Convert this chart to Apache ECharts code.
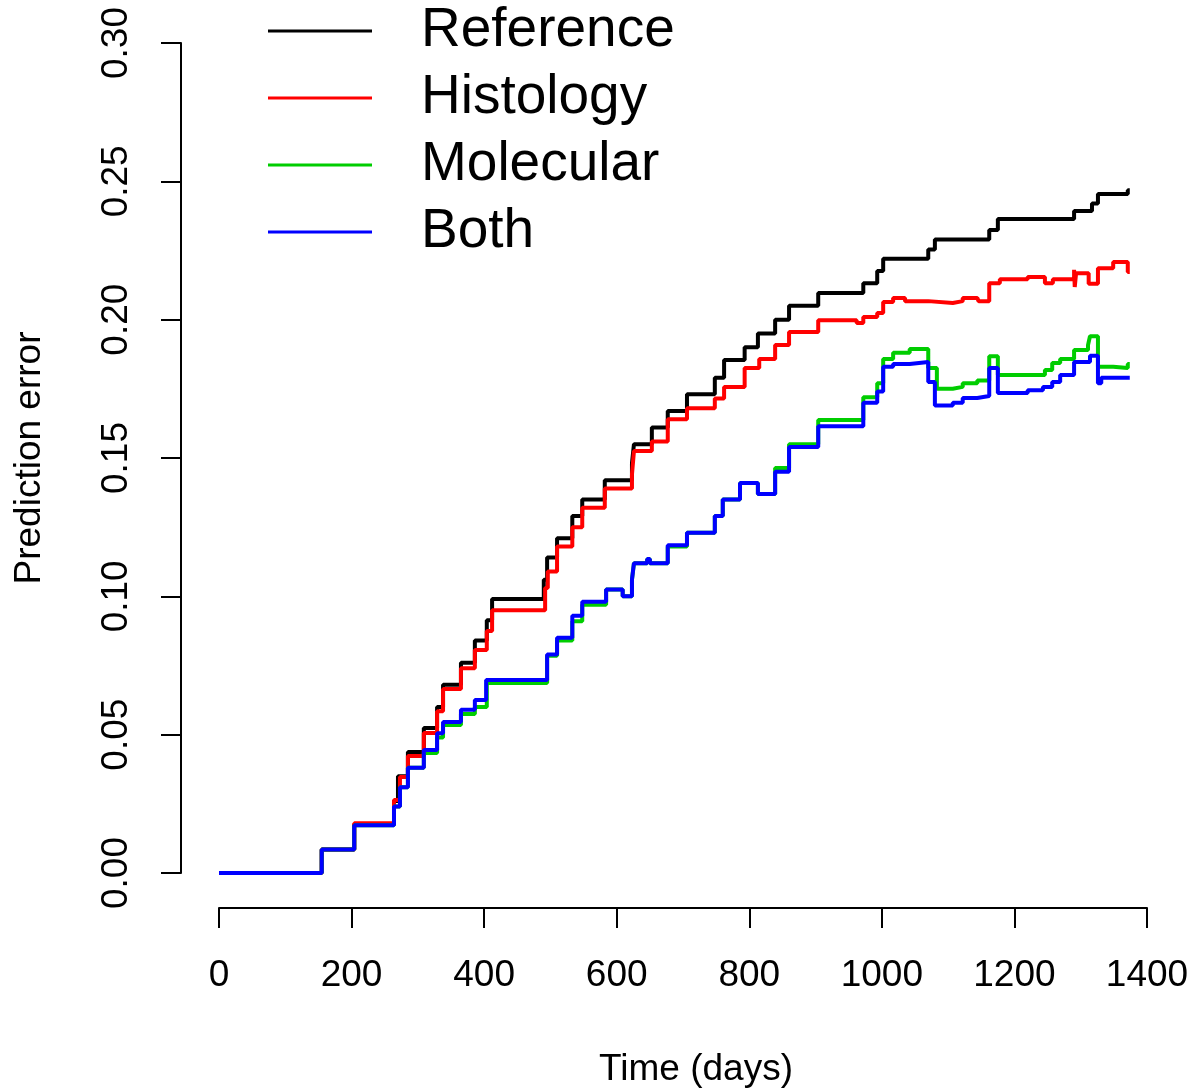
<!DOCTYPE html>
<html>
<head>
<meta charset="utf-8">
<script src="https://cdn.jsdelivr.net/npm/echarts@6/dist/echarts.min.js"></script>
<style>
  html, body { margin: 0; padding: 0; background: #fff; }
  #chart { width: 1193px; height: 1090px; }
</style>
</head>
<body>
<div id="chart"></div>
<script>
// prediction error curves, [time in days, error] - value holds until the next time
const referenceCurve = [
  [0, 0], [155, 0.0085], [204, 0.0175], [264, 0.026], [270, 0.035], [285, 0.0437],
  [309, 0.0524], [329, 0.06], [338, 0.068], [365, 0.076], [386, 0.084], [404, 0.0914],
  [412, 0.099], [490, 0.106], [495, 0.114], [510, 0.121], [533, 0.129], [548, 0.135],
  [582, 0.142], [623, 0.148], [626, 0.155], [653, 0.161], [677, 0.167], [706, 0.173],
  [748, 0.179], [762, 0.1854], [793, 0.190], [813, 0.195], [839, 0.200], [860, 0.205],
  [904, 0.2096], [972, 0.2132], [993, 0.2176], [1002, 0.222], [1070, 0.2254], [1080, 0.229],
  [1162, 0.2324], [1175, 0.2364], [1290, 0.2393], [1317, 0.242], [1326, 0.2454],
  [1371, 0.2468], [1374, 0.2468]
];
const histologyCurve = [
  [0, 0], [155, 0.0085], [204, 0.018], [264, 0.0264], [273, 0.0347], [285, 0.0423],
  [309, 0.0506], [329, 0.0585], [338, 0.0665], [365, 0.074], [386, 0.0806], [404, 0.0875],
  [412, 0.095], [492, 0.103], [496, 0.109], [510, 0.118], [533, 0.125], [548, 0.132],
  [582, 0.139], [623, 0.144], [626, 0.1525], [653, 0.156], [677, 0.164], [706, 0.168],
  [748, 0.1715], [762, 0.1757], [793, 0.1825], [815, 0.1858], [839, 0.1908], [860, 0.1955],
  [904, 0.1998], [962, 0.1988], [972, 0.201], [993, 0.2024], [1002, 0.2064], [1017, 0.2078],
  [1035, 0.2067], [1070, 0.206], [1107, 0.2067], [1122, 0.2078], [1144, 0.2085],
  [1146, 0.2067], [1162, 0.2132], [1178, 0.2146], [1220, 0.2154], [1246, 0.2132],
  [1258, 0.2146], [1290, 0.218], [1291, 0.2118], [1293, 0.2168], [1312, 0.213],
  [1326, 0.2186], [1349, 0.2208], [1371, 0.2172], [1374, 0.2172]
];
const molecularCurve = [
  [0, 0], [155, 0.0085], [204, 0.0173], [264, 0.024], [273, 0.031], [285, 0.038],
  [309, 0.0434], [329, 0.049], [338, 0.0535], [365, 0.0575], [386, 0.060], [404, 0.0687],
  [495, 0.0785], [510, 0.084], [533, 0.091], [548, 0.097], [584, 0.1025], [609, 0.100],
  [623, 0.106], [626, 0.112], [646, 0.1135], [650, 0.112], [677, 0.118], [706, 0.123],
  [748, 0.129], [760, 0.135], [786, 0.141], [813, 0.137], [839, 0.1464], [860, 0.155],
  [904, 0.1637], [972, 0.172], [993, 0.177], [1002, 0.1858], [1017, 0.188], [1042, 0.1894],
  [1070, 0.1825], [1083, 0.175], [1107, 0.1757], [1122, 0.177], [1144, 0.178],
  [1162, 0.1868], [1175, 0.180], [1246, 0.1818], [1257, 0.1843], [1269, 0.1858],
  [1290, 0.189], [1311, 0.1908], [1314, 0.194], [1326, 0.183], [1349, 0.1825],
  [1371, 0.184], [1374, 0.184]
];
const bothCurve = [
  [0, 0], [155, 0.0085], [204, 0.0173], [264, 0.024], [273, 0.031], [285, 0.038],
  [309, 0.0445], [329, 0.0505], [338, 0.0546], [365, 0.059], [386, 0.0625], [403, 0.0698],
  [495, 0.079], [510, 0.085], [533, 0.093], [548, 0.098], [584, 0.1025], [609, 0.100],
  [623, 0.106], [626, 0.112], [646, 0.1135], [650, 0.112], [677, 0.1185], [706, 0.123],
  [748, 0.129], [760, 0.135], [786, 0.141], [813, 0.137], [839, 0.145], [860, 0.154],
  [904, 0.1615], [972, 0.170], [993, 0.174], [1002, 0.183], [1017, 0.184], [1042, 0.1847],
  [1070, 0.1775], [1080, 0.169], [1107, 0.170], [1122, 0.1717], [1144, 0.1724],
  [1162, 0.1825], [1175, 0.1735], [1220, 0.1745], [1243, 0.1757], [1257, 0.1775],
  [1269, 0.180], [1290, 0.1847], [1314, 0.187], [1326, 0.177], [1331, 0.179], [1374, 0.179]
];

const seriesNames = ['Reference', 'Histology', 'Molecular', 'Both'];
const seriesColors = ['#000000', '#ff0000', '#00cd00', '#0000ff'];
const curves = [referenceCurve, histologyCurve, molecularCurve, bothCurve];

const font = 'Liberation Sans, Arial, sans-serif';

const chart = echarts.init(document.getElementById('chart'), null, { renderer: 'canvas' });

chart.setOption({
  animation: false,
  color: seriesColors,
  grid: { left: 219, right: 46, top: 43, bottom: 217, containLabel: false, outerBoundsMode: 'none' },
  legend: {
    orient: 'vertical',
    left: 263,
    top: -2,
    itemWidth: 104,
    itemHeight: 3,
    itemGap: 11,
    icon: 'rect',
    textStyle: { fontFamily: font, fontSize: 55, color: '#000', lineHeight: 56, padding: [0, 0, 0, 44] },
    data: seriesNames,
  },
  xAxis: {
    type: 'value',
    min: 0,
    max: 1400,
    interval: 200,
    offset: 35,
    name: 'Time (days)',
    nameLocation: 'middle',
    nameGap: 143,
    nameTextStyle: { fontFamily: font, fontSize: 37, color: '#000', padding: [0, 0, 0, 26] },
    axisLine: { show: true, onZero: false, lineStyle: { color: '#000', width: 2 } },
    axisTick: { show: true, length: 20, lineStyle: { color: '#000', width: 2 } },
    axisLabel: {
      fontFamily: font, fontSize: 37, color: '#000', margin: 49,
      showMinLabel: true, showMaxLabel: true,
      formatter: (v) => String(v),
    },
    splitLine: { show: false },
  },
  yAxis: {
    type: 'value',
    min: 0,
    max: 0.3,
    interval: 0.05,
    offset: 38,
    name: 'Prediction error',
    nameLocation: 'middle',
    nameGap: 133,
    nameTextStyle: { fontFamily: font, fontSize: 37, color: '#000' },
    axisLine: { show: true, onZero: false, lineStyle: { color: '#000', width: 2 } },
    axisTick: { show: true, length: 20, lineStyle: { color: '#000', width: 2 } },
    axisLabel: {
      fontFamily: font, fontSize: 37, color: '#000', margin: 46, rotate: 90,
      showMinLabel: true, showMaxLabel: true,
      formatter: (v) => v.toFixed(2),
    },
    splitLine: { show: false },
  },
  series: curves.map((curve, i) => ({
    name: seriesNames[i],
    type: 'line',
    step: 'end',
    data: curve,
    showSymbol: false,
    symbol: 'none',
    z: 10 + i,
    lineStyle: { color: seriesColors[i], width: 4 },
  })),
});
</script>
</body>
</html>
